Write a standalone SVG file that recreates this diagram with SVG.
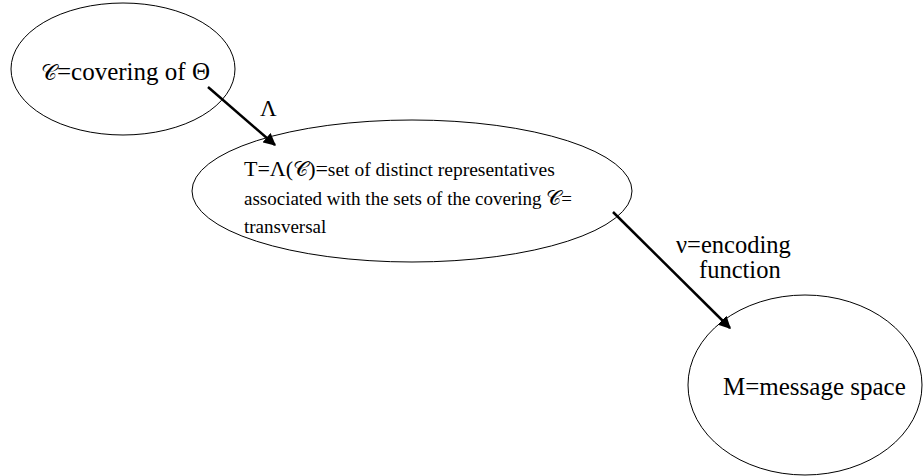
<svg xmlns="http://www.w3.org/2000/svg" width="923" height="476" viewBox="0 0 923 476">
<style>
.n{fill:#fff;stroke:#000;stroke-width:1}
text{font-family:'Liberation Serif','DejaVu Serif',serif;fill:#000}
.c{stroke:#000;stroke-width:2.5;fill:none}
.sc{font-family:'DejaVu Serif','Liberation Serif',serif}
</style>
<defs>
<marker id="ah" viewBox="0 0 10 10" refX="9" refY="5" markerWidth="5" markerHeight="5" orient="auto" markerUnits="strokeWidth">
<path d="M0,0 L10,5 L0,10 z" fill="#000"/>
</marker>
</defs>
<rect width="923" height="476" fill="#fff"/>
<g id="covering">
<ellipse class="n" cx="123" cy="69" rx="112" ry="66"/>
<text x="41" y="80" font-size="25"><tspan class="sc" font-size="22">𝒞</tspan>=covering of Θ</text>
</g>
<g id="transversal">
<ellipse class="n" cx="412" cy="191" rx="220" ry="71"/>
<text x="244" y="176" font-size="22">T=Λ(<tspan class="sc" font-size="21">𝒞</tspan>)=<tspan font-size="19.5">set of distinct representatives</tspan></text>
<text x="244" y="205" font-size="19">associated with the sets of the covering <tspan class="sc" font-size="21">𝒞</tspan>=</text>
<text x="244" y="233" font-size="19">transversal</text>
</g>
<g id="message">
<ellipse class="n" cx="805" cy="385" rx="117" ry="90"/>
<text x="723" y="395" font-size="25">M=message space</text>
</g>
<g id="connectors">
<line class="c" x1="208" y1="87" x2="275" y2="145" marker-end="url(#ah)"/>
<text x="260" y="116" font-size="23">Λ</text>
<line class="c" x1="613" y1="212" x2="730" y2="328" marker-end="url(#ah)"/>
<text x="676" y="253" font-size="24.5">ν=encoding</text>
<text x="699" y="278" font-size="24.5">function</text>
</g>
</svg>
